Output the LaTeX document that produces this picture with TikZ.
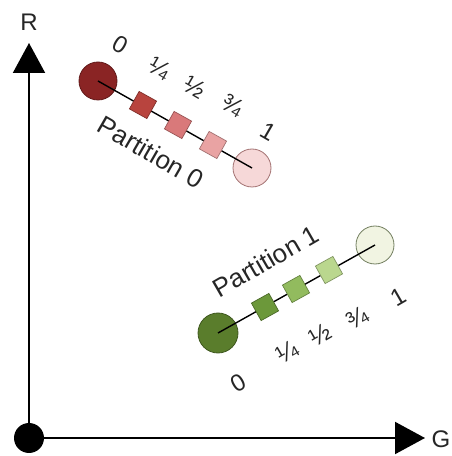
\documentclass[tikz,border=0pt]{standalone}
\usepackage{fontspec}
\setmainfont{Liberation Sans}
\usetikzlibrary{arrows.meta}
\definecolor{redA}{HTML}{8A2424}
\definecolor{redB}{HTML}{B8443E}
\definecolor{redC}{HTML}{D9797A}
\definecolor{redD}{HTML}{E9A3A3}
\definecolor{redE}{HTML}{F6D8D8}
\definecolor{grnA}{HTML}{5A7D2C}
\definecolor{grnB}{HTML}{6C983A}
\definecolor{grnC}{HTML}{92BB5E}
\definecolor{grnD}{HTML}{BAD78E}
\definecolor{grnE}{HTML}{F1F4E2}
\tikzset{
  axis/.style={line width=2pt,-{Triangle[length=30pt,width=32pt]}},
  endpt/.style={circle,draw=#1!70!black,line width=0.8pt,inner sep=0pt},
  knot/.style={rectangle,fill=#1,draw=#1!70!black,line width=0.7pt,minimum size=20pt,inner sep=0pt},
  lbl/.style={font=\fontsize{24}{24}\selectfont,text=black!85},
  title/.style={font=\fontsize{26}{26}\selectfont,text=black!85},
  frac/.style={font=\fontsize{25}{25}\selectfont,text=black!85},
}
\begin{document}
\begin{tikzpicture}[x=1pt,y=1pt]
\useasboundingbox (0,0) rectangle (452,456);
% axes
\node[circle,fill=black,minimum size=30pt,inner sep=0pt] (O) at (29,18) {};
\coordinate (Gend) at (425,18);
\coordinate (Rend) at (29,413);
\draw[axis] (O.center) -- (Gend);
\draw[axis] (O.center) -- (Rend);
\node[lbl] (G) at (441,17) {G};
\node[lbl] (R) at (29,434) {R};

% partition 0
\node[endpt=redA,fill=redA,minimum size=38pt] (a0) at (98,375) {};
\node[endpt=redD,fill=redE,minimum size=38pt] (b0) at (252,288) {};
\draw[line width=1.4pt] (a0.center) -- (b0.center);
\node[knot=redB,rotate=-29] (s01) at (143,351) {};
\node[knot=redC,rotate=-29] (s02) at (178,331) {};
\node[knot=redD,rotate=-29] (s03) at (213,311) {};
\node[lbl,rotate=-30] (t00) at (120,411) {0};
\node[frac,rotate=-30] (t01) at (160,388) {¼};
\node[frac,rotate=-30] (t02) at (195,369) {½};
\node[frac,rotate=-30] (t03) at (233,351) {¾};
\node[lbl,rotate=-30] (t04) at (268,324) {1};
\node[title,rotate=-30] (p0) at (151,304) {Partition 0};

% partition 1
\node[endpt=grnA,fill=grnA,minimum size=40pt] (a1) at (218,123) {};
\node[endpt=grnD!60!gray,fill=grnE,minimum size=38pt] (b1) at (375,211) {};
\draw[line width=1.4pt] (a1.center) -- (b1.center);
\node[knot=grnB,rotate=29] (s11) at (265,149) {};
\node[knot=grnC,rotate=29] (s12) at (296,167) {};
\node[knot=grnD,rotate=29] (s13) at (329,186) {};
\node[title,rotate=30] (p1) at (266,195) {Partition 1};
\node[lbl,rotate=30] (t10) at (238,73) {0};
\node[frac,rotate=30] (t11) at (287,104) {¼};
\node[frac,rotate=30] (t12) at (320,121) {½};
\node[frac,rotate=30] (t13) at (357,138) {¾};
\node[lbl,rotate=30] (t14) at (398,159) {1};
\end{tikzpicture}
\end{document}
